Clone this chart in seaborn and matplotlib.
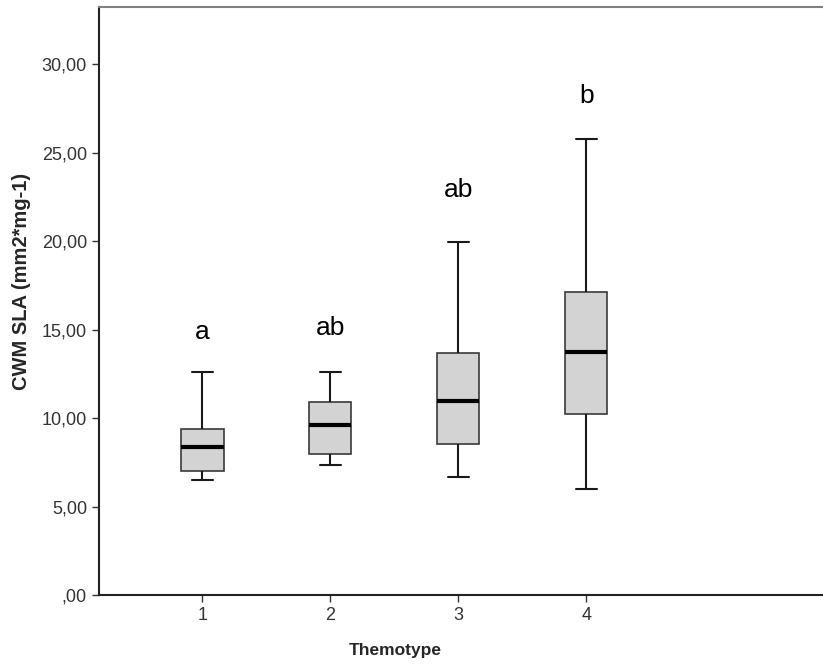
import numpy as np
import pandas as pd
import seaborn as sns
import matplotlib.pyplot as plt
from matplotlib.ticker import FixedLocator, FuncFormatter

# five-number summaries: min, Q1, median, Q3, max
groups = ['1', '2', '3', '4']
g1 = [6.48, 7.02, 8.38, 9.38, 12.62]
g2 = [7.38, 7.97, 9.59, 10.92, 12.60]
g3 = [6.67, 8.53, 10.98, 13.69, 19.93]
g4 = [5.97, 10.23, 13.75, 17.14, 25.76]
letters = ['a', 'ab', 'ab', 'b']
letter_y = [14.87, 15.08, 22.9, 28.2]
yticks = [0, 5, 10, 15, 20, 25, 30]

df = pd.DataFrame({
    'Themotype': np.repeat(groups, 5),
    'SLA': g1 + g2 + g3 + g4,
})

sns.set_style('white')
plt.rcParams['font.family'] = ['Liberation Sans', 'DejaVu Sans']

fig = plt.figure(figsize=(8.23, 6.65), dpi=100)
ax = fig.add_axes([0.12, 0.105, 0.95, 0.884])

sns.boxplot(data=df, x='Themotype', y='SLA', order=groups, whis=(0, 100),
            width=0.33, color='#d3d3d3', saturation=1, ax=ax,
            boxprops=dict(facecolor='#d3d3d3', edgecolor='#3a3a3a', linewidth=1.2),
            whiskerprops=dict(color='#1a1a1a', linewidth=1.5),
            capprops=dict(color='#1a1a1a', linewidth=1.5),
            medianprops=dict(color='black', linewidth=3))

for i, (lab, yv) in enumerate(zip(letters, letter_y)):
    ax.text(i, yv, lab, ha='center', va='center', fontsize=19, color='black')

ax.set_ylim(0, 33.2)
ax.set_xlim(-0.81, 5.30)
ax.yaxis.set_major_locator(FixedLocator(yticks))
ax.yaxis.set_major_formatter(FuncFormatter(
    lambda v, p: ',00' if v == 0 else f'{v:.2f}'.replace('.', ',')))

ax.set_xlabel('Themotype', fontsize=12.5, fontweight='bold')
ax.set_ylabel('CWM SLA (mm2*mg-1)', fontsize=14.5, fontweight='bold')
# SPSS centres the titles on the visible part of the plot
ax.xaxis.set_label_coords(0.379, -0.082)
ax.yaxis.set_label_coords(-0.087, 0.534)
ax.tick_params(axis='both', which='both', direction='out', length=5, width=1,
               color='#333333', labelcolor='#333333', labelsize=13,
               left=True, bottom=True)

for side in ['left', 'bottom']:
    ax.spines[side].set_color('#222222')
    ax.spines[side].set_linewidth(1.5)
ax.spines['top'].set_color('#808080')
ax.spines['top'].set_linewidth(1.5)
ax.spines['right'].set_visible(False)

fig.savefig('out.png', dpi=100)
